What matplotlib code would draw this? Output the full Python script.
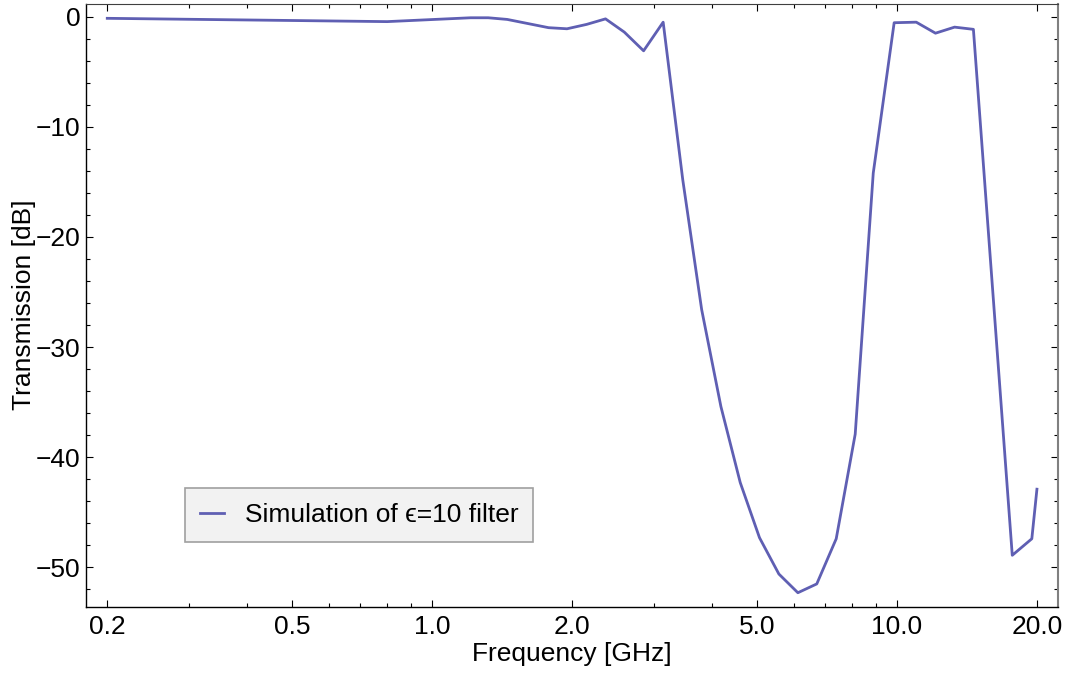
import matplotlib
matplotlib.use("Agg")
import matplotlib.pyplot as plt
from matplotlib.ticker import FixedLocator, FixedFormatter, NullFormatter, MultipleLocator

plt.rcParams['font.family'] = ['Liberation Sans', 'DejaVu Sans']

# Data
freq_ghz = [0.2, 0.8, 1.21, 1.32, 1.45, 1.78, 1.95, 2.15, 2.36, 2.59, 2.85, 3.14,
            3.46, 3.80, 4.18, 4.60, 5.06, 5.57, 6.12, 6.72, 7.40, 8.13, 8.89,
            9.86, 11.0, 12.1, 13.3, 14.6, 17.7, 19.5, 20.0]
trans_db = [-0.15, -0.45, -0.1, -0.1, -0.25, -1.0, -1.1, -0.7, -0.2, -1.4, -3.1, -0.5,
            -14.8, -26.6, -35.4, -42.3, -47.3, -50.6, -52.3, -51.5, -47.4, -37.9, -14.2,
            -0.55, -0.5, -1.5, -0.95, -1.15, -48.9, -47.4, -42.9]

x_major = [0.2, 0.5, 1.0, 2.0, 5.0, 10.0, 20.0]
x_major_labels = ["0.2", "0.5", "1.0", "2.0", "5.0", "10.0", "20.0"]
x_minor = [0.3, 0.4, 0.6, 0.7, 0.8, 0.9, 3, 4, 6, 7, 8, 9]
y_major = [0, -10, -20, -30, -40, -50]
y_major_labels = ["0", "\u221210", "\u221220", "\u221230", "\u221240", "\u221250"]

legend_label = "Simulation of \u03f5=10 filter"
line_color = "#5f5fb3"
FS = 19

fig = plt.figure(figsize=(10.70, 6.73), dpi=100)
ax = fig.add_axes([86/1070, 1-606.5/673, (1058-86)/1070, (606.5-4)/673])

ax.plot(freq_ghz, trans_db, color=line_color, lw=2.0, label=legend_label)

ax.set_xscale('log')
ax.set_xlim(0.180, 22.2)
ax.set_ylim(-53.55, 1.15)

ax.xaxis.set_major_locator(FixedLocator(x_major))
ax.xaxis.set_major_formatter(FixedFormatter(x_major_labels))
ax.xaxis.set_minor_locator(FixedLocator(x_minor))
ax.xaxis.set_minor_formatter(NullFormatter())
ax.yaxis.set_major_locator(FixedLocator(y_major))
ax.yaxis.set_major_formatter(FixedFormatter(y_major_labels))
ax.yaxis.set_minor_locator(MultipleLocator(2))

ax.tick_params(which='both', direction='in', top=True, right=True, labelsize=FS,
               width=0.8)
ax.tick_params(axis='y', which='both', pad=4)
ax.tick_params(axis='x', which='both', pad=6)
ax.tick_params(which='major', length=5)
ax.tick_params(which='minor', length=3)

for s in ['left', 'bottom']:
    ax.spines[s].set_color('black')
    ax.spines[s].set_linewidth(1.0)
ax.spines['top'].set_color('#404040')
ax.spines['right'].set_color('#808080')
ax.spines['right'].set_linewidth(1.5)

ax.set_xlabel("Frequency [GHz]", fontsize=FS, labelpad=2)
ax.set_ylabel("Transmission [dB]", fontsize=FS, labelpad=0)

leg = ax.legend(loc='lower left', bbox_to_anchor=(0.1019, 0.107), borderaxespad=0,
                fontsize=FS, fancybox=False, framealpha=1, facecolor='#f2f2f2',
                edgecolor='#a0a0a0', handlelength=0.9, handletextpad=0.8,
                borderpad=0.56, labelspacing=0.3)
leg.get_frame().set_linewidth(1.2)

fig.savefig("out.png", dpi=100)
